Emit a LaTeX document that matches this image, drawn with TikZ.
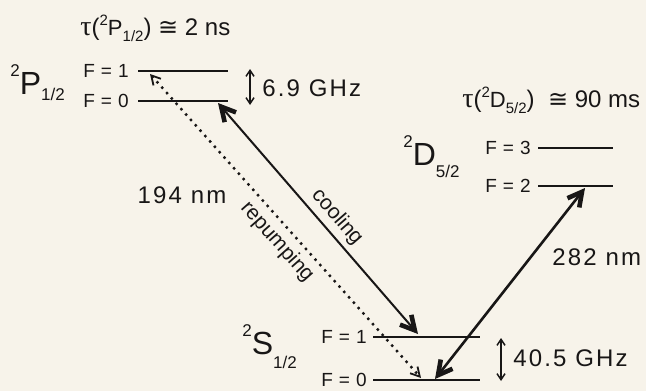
\documentclass[tikz,border=0pt]{standalone}
\usepackage{fontspec}
\setmainfont{Liberation Sans}
\newfontfamily\lsp[LetterSpace=9]{Liberation Sans}
\newfontfamily\fsp[LetterSpace=4]{Liberation Sans}
\newfontfamily\symf{DejaVu Sans}
\newfontfamily\grk{Liberation Serif}
\usetikzlibrary{arrows.meta}
\definecolor{bg}{RGB}{247,243,234}
\definecolor{ink}{RGB}{24,22,22}
\newcommand\stlab[5]{\fontsize{16}{18}\selectfont\raisebox{#4}{\fontsize{8.5}{9}\selectfont #1}#2\raisebox{-#5}{\fontsize{8.5}{9}\selectfont #3}}
\newcommand\tauterm[3]{{\grk\fontsize{14}{15}\selectfont τ}(\raisebox{5pt}{\fontsize{7.5}{8}\selectfont 2}{\fontsize{11}{12}\selectfont #1}\raisebox{-3pt}{\fontsize{7.5}{8}\selectfont #2})#3{\symf ≅} }
\tikzset{
  level/.style={line width=1.1pt, draw=ink},
  flab/.style={anchor=east, inner sep=0, text=ink, font=\fsp\fontsize{9.5}{11}\selectfont},
  big/.style={inner sep=0, text=ink, font=\lsp\fontsize{12}{14}\selectfont},
  term/.style={inner sep=0, text=ink, anchor=west},
  heavy/.style={draw=ink, line width=1pt, {Straight Barb[length=7pt,width=7.5pt,line width=2.3pt]}-{Straight Barb[length=7pt,width=7.5pt,line width=2.3pt]}},
  dotarrow/.style={draw=ink, line width=1.2pt, dash pattern=on 1.2pt off 2.4pt, {Straight Barb[length=4.5pt,width=5pt,line width=0.9pt]}-{Straight Barb[length=4.5pt,width=5pt,line width=0.9pt]}},
  split/.style={draw=ink, line width=0.75pt, {Straight Barb[length=3pt,width=4pt,line width=0.75pt]}-{Straight Barb[length=3pt,width=4pt,line width=0.75pt]}},
  rot/.style={inner sep=0, text=ink, font=\fontsize{10.5}{12}\selectfont}
}
\begin{document}
\begin{tikzpicture}[x=0.5pt,y=-0.5pt]
\fill[bg] (0,0) rectangle (646,391);
\useasboundingbox (0,0) rectangle (646,391);
% level coordinates
\coordinate (p1a) at (138,71);  \coordinate (p1b) at (228,71);
\coordinate (p0a) at (138,101); \coordinate (p0b) at (228,101);
\coordinate (d3a) at (538,148); \coordinate (d3b) at (613,148);
\coordinate (d2a) at (538,186); \coordinate (d2b) at (613,186);
\coordinate (s1a) at (373,337); \coordinate (s1b) at (480,337);
\coordinate (s0a) at (373,380); \coordinate (s0b) at (480,380);
\draw[level] (p1a) -- (p1b);
\draw[level] (p0a) -- (p0b);
\draw[level] (d3a) -- (d3b);
\draw[level] (d2a) -- (d2b);
\draw[level] (s1a) -- (s1b);
\draw[level] (s0a) -- (s0b);
% F labels
\node[flab] (fp1) at (129,71) {F = 1};
\node[flab] (fp0) at (129,101) {F = 0};
\node[flab] (fd3) at (531,148) {F = 3};
\node[flab] (fd2) at (531,186) {F = 2};
\node[flab] (fs1) at (367,337) {F = 1};
\node[flab] (fs0) at (367,380) {F = 0};
% term labels
\node[term] (tp) at (10,83) {\stlab{2}{P}{1/2}{9pt}{3pt}};
\node[term] (td) at (403,157) {\stlab{2}{D}{5/2}{9pt}{6pt}};
\node[term] (ts) at (242,347) {\stlab{2}{S}{1/2}{9pt}{7pt}};
% lifetimes
\node[term, font=\fontsize{12}{14}\selectfont] (taup) at (80,28) {\tauterm{P}{1/2}{ }2 ns};
\node[term, font=\fontsize{12}{14}\selectfont] (taud) at (462,100) {\tauterm{D}{5/2}{\ \ }90 ms};
% splittings
\coordinate (hp1) at (250,69); \coordinate (hp0) at (250,105);
\draw[split] (hp1) -- (hp0);
\node[big, anchor=west] (g69) at (262,88) {6.9 GHz};
\coordinate (hs1) at (501,338); \coordinate (hs0) at (501,381);
\draw[split] (hs1) -- (hs0);
\node[big, anchor=west] (g405) at (513,358) {40.5 GHz};
% transitions
\coordinate (coolT) at (218,103); \coordinate (coolB) at (418,334);
\coordinate (repT) at (150,74);   \coordinate (repB) at (421,378);
\coordinate (uvT) at (585,188);   \coordinate (uvB) at (435,379);
\draw[heavy] (coolT) -- (coolB);
\draw[dotarrow] (repT) -- (repB);
\draw[heavy, line width=1.3pt] (uvB) -- (uvT);
\node[big] (nm194) at (182,195) {194 nm};
\node[big, anchor=west] (nm282) at (552,257) {282 nm};
\node[rot, rotate=-49] (cool) at (337,217) {cooling};
\node[rot, rotate=-48.5] (rep) at (277,242) {repumping};
\end{tikzpicture}
\end{document}
